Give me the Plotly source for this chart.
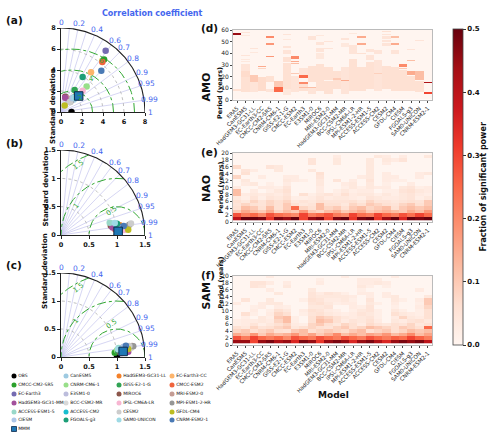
import numpy as np
import plotly.graph_objects as go

# ---------------- DATA ----------------
MODELS = ["OBS", "CanESM5", "HadGEM3-GC31-LL", "EC-Earth3-CC", "CMCC-CM2-SR5", "CNRM-CM6-1",
          "GISS-E2-1-G", "CMCC-ESM2", "EC-Earth3", "E3SM1-0", "MIROC6", "MRI-ESM2-0",
          "HadGEM3-GC31-MM", "BCC-CSM2-MR", "IPSL-CM6A-LR", "MPI-ESM1-2-HR", "ACCESS-ESM1-5",
          "ACCESS-CM2", "CESM2", "GFDL-CM4", "CIESM", "FGOALS-g3", "SAM0-UNICON", "CNRM-ESM2-1", "MMM"]
COLORS = ["#000000", "#9ecae1", "#f4812a", "#fdb46b", "#2ca02c", "#98df8a",
          "#31a354", "#f0643c", "#756bb1", "#bcbddc", "#8c564b", "#c49c94",
          "#a3509c", "#d9d9d9", "#f7b6d2", "#969696", "#99d8c9",
          "#17becf", "#cccccc", "#bcbd22", "#aec7e8", "#1b9e77", "#9edae5", "#4a7ab5", "#1f77b4"]

# Taylor diagram (a) AMO
STD_A = [1.0, 1.70, 2.27, 4.74, 6.47, 3.45, 2.47, 6.18, 7.22, 1.30, 1.52, 1.43,
         1.41, 1.26, 2.89, 1.35, 1.81, 1.94, 1.27, 0.72, 1.70, 3.92, 1.87, 5.50, 2.27]
CORR_A = [1.0, 0.707, 0.66, 0.603, 0.634, 0.707, 0.526, 0.637, 0.589, 0.537, 0.27, 0.42,
          0.284, 0.683, 0.712, 0.669, 0.664, 0.694, 0.667, 0.486, 0.646, 0.526, 0.694, 0.698, 0.741]
# Taylor diagram (b) NAO
STD_B = [1.0, 0.962, 1.064, 1.016, 0.987, 0.951, 1.031, 0.975, 1.089, 1.107, 0.904, 1.154,
         0.929, 1.19, 1.124, 1.233, 0.897, 1.008, 1.266, 1.204, 1.057, 1.02, 0.983, 1.131, 1.022]
CORR_B = [1.0, 0.988, 0.987, 0.984, 0.993, 0.978, 0.989, 0.995, 0.992, 0.994, 0.984, 0.996,
          0.990, 0.992, 0.997, 0.989, 0.970, 0.982, 0.987, 0.997, 0.994, 0.981, 0.977, 0.990, 0.998]
# Taylor diagram (c) SAM
STD_C = [1.0, 1.062, 1.156, 1.11, 0.963, 1.007, 1.025, 1.092, 1.192, 1.137, 1.054, 1.286,
         1.204, 1.26, 1.082, 1.304, 1.042, 1.078, 1.236, 1.208, 1.134, 1.057, 1.03, 1.177, 1.114]
CORR_C = [1.0, 0.989, 0.995, 0.991, 0.997, 0.993, 0.995, 0.989, 0.990, 0.993, 0.996, 0.988,
          0.997, 0.992, 0.998, 0.989, 0.988, 0.993, 0.987, 0.993, 0.987, 0.994, 0.991, 0.985, 0.996]

CORR_LINES = [0.1, 0.2, 0.3, 0.4, 0.5, 0.6, 0.7, 0.8, 0.9, 0.95, 0.99]
CORR_LABELS = [0, 0.2, 0.4, 0.6, 0.7, 0.8, 0.9, 0.95, 0.99, 1]

HEAT_MODELS = ["ERA5", "CanESM5", "HadGEM3-GC31-LL", "EC-Earth3-CC", "CMCC-CM2-SR5", "CNRM-CM6-1",
               "GISS-E2-1-G", "CMCC-ESM2", "EC-Earth3", "E3SM1-0", "MIROC6", "MRI-ESM2-0",
               "HadGEM3-GC31-MM", "BCC-CSM2-MR", "IPSL-CM6A-LR", "MPI-ESM1-2-HR", "ACCESS-ESM1-5",
               "ACCESS-CM2", "CESM2", "GFDL-CM4", "CIESM", "FGOALS-g3", "SAM0-UNICON", "CNRM-ESM2-1"]

AMO_PERIODS = list(range(1, 61))
NAO_PERIODS = list(range(1, 21))
SAM_PERIODS = list(range(1, 21))

# AMO: significant bands per model (period_from, period_to, fraction)
AMO_BANDS = [
    [(56, 57, 0.45), (8, 9, 0.06)],
    [(58, 58, 0.05), (55, 55, 0.04), (38, 38, 0.05), (35, 35, 0.04), (33, 33, 0.04), (25, 30, 0.05), (20, 24, 0.07), (7, 19, 0.06)],
    [(44, 44, 0.05), (41, 41, 0.04), (16, 21, 0.10), (7, 15, 0.05)],
    [(29, 29, 0.15), (27, 27, 0.08), (8, 19, 0.07)],
    [(54, 54, 0.20), (48, 48, 0.18), (37, 37, 0.18), (16, 20, 0.06), (7, 9, 0.05)],
    [(12, 16, 0.10), (7, 11, 0.25)],
    [(56, 56, 0.05), (52, 52, 0.04), (45, 46, 0.05), (40, 42, 0.05), (33, 36, 0.06), (10, 31, 0.06), (5, 9, 0.04)],
    [(36, 37, 0.20), (33, 33, 0.15), (31, 31, 0.12), (23, 23, 0.10), (7, 20, 0.05)],
    [(19, 21, 0.25), (14, 15, 0.20), (11, 11, 0.12), (8, 13, 0.06), (22, 27, 0.05)],
    [(52, 54, 0.05), (16, 29, 0.06), (11, 11, 0.12), (6, 10, 0.05)],
    [(55, 55, 0.04), (48, 49, 0.05), (42, 44, 0.05), (36, 40, 0.04), (8, 30, 0.06)],
    [(50, 50, 0.05), (44, 44, 0.05), (18, 28, 0.06), (6, 16, 0.06)],
    [(10, 24, 0.06), (18, 18, 0.10)],
    [(52, 53, 0.05), (46, 48, 0.04), (17, 17, 0.15), (6, 28, 0.05)],
    [(57, 57, 0.04), (40, 47, 0.05), (8, 35, 0.06)],
    [(54, 54, 0.15), (48, 48, 0.15), (40, 40, 0.06), (8, 28, 0.06)],
    [(42, 43, 0.05), (35, 38, 0.05), (10, 32, 0.06)],
    [(40, 42, 0.05), (23, 23, 0.09), (8, 34, 0.05)],
    [(59, 59, 0.06), (56, 56, 0.05), (53, 54, 0.05), (50, 51, 0.05), (47, 48, 0.05), (10, 29, 0.06)],
    [(54, 54, 0.12), (48, 48, 0.15), (40, 42, 0.05), (8, 28, 0.06)],
    [(29, 30, 0.20), (27, 27, 0.10), (8, 25, 0.06)],
    [(43, 43, 0.05), (34, 34, 0.12), (22, 24, 0.15), (8, 20, 0.06)],
    [(51, 51, 0.05), (18, 24, 0.12), (7, 16, 0.06)],
    [(15, 15, 0.42), (6, 6, 0.30)],
]

NAO_ROWS = [
    [0.40, 0.50, 0.50, 0.48, 0.32, 0.48, 0.45, 0.50, 0.30, 0.45, 0.48, 0.30, 0.48, 0.50, 0.32, 0.48, 0.50, 0.32, 0.45, 0.50, 0.35, 0.50, 0.48, 0.50],
    [0.28, 0.22, 0.25, 0.20, 0.28, 0.24, 0.22, 0.20, 0.30, 0.22, 0.25, 0.28, 0.22, 0.20, 0.30, 0.24, 0.22, 0.30, 0.25, 0.22, 0.28, 0.24, 0.30, 0.25],
    [0.10, 0.15, 0.12, 0.10, 0.15, 0.08, 0.12, 0.10, 0.18, 0.10, 0.08, 0.12, 0.15, 0.10, 0.12, 0.15, 0.10, 0.12, 0.14, 0.12, 0.10, 0.15, 0.12, 0.18],
    [0.06, 0.12, 0.10, 0.06, 0.12, 0.06, 0.10, 0.25, 0.08, 0.06, 0.12, 0.08, 0.10, 0.06, 0.10, 0.12, 0.08, 0.10, 0.12, 0.06, 0.10, 0.12, 0.10, 0.12],
    [0.05, 0.08, 0.06, 0.05, 0.08, 0.06, 0.10, 0.06, 0.04, 0.05, 0.12, 0.06, 0.06, 0.04, 0.08, 0.06, 0.10, 0.08, 0.06, 0.05, 0.08, 0.10, 0.06, 0.10],
    [0.06, 0.04, 0.08, 0.05, 0.08, 0.06, 0.08, 0.04, 0.05, 0.04, 0.06, 0.05, 0.05, 0.05, 0.06, 0.04, 0.08, 0.05, 0.05, 0.04, 0.05, 0.06, 0.05, 0.10],
    [0.04, 0.02, 0.05, 0.02, 0.05, 0.04, 0.06, 0.02, 0.02, 0.03, 0.05, 0.03, 0.04, 0.04, 0.03, 0.02, 0.05, 0.04, 0.03, 0.03, 0.04, 0.05, 0.02, 0.04],
    [0.12, 0.03, 0.04, 0.03, 0.04, 0.03, 0.05, 0.00, 0.06, 0.02, 0.04, 0.05, 0.03, 0.06, 0.03, 0.04, 0.04, 0.02, 0.04, 0.02, 0.04, 0.05, 0.03, 0.02],
    [0.12, 0.00, 0.03, 0.00, 0.02, 0.04, 0.06, 0.00, 0.00, 0.00, 0.03, 0.00, 0.02, 0.04, 0.02, 0.03, 0.03, 0.00, 0.02, 0.02, 0.05, 0.06, 0.04, 0.03],
    [0.03, 0.00, 0.00, 0.03, 0.03, 0.02, 0.05, 0.00, 0.00, 0.00, 0.03, 0.00, 0.00, 0.02, 0.04, 0.02, 0.04, 0.03, 0.03, 0.00, 0.04, 0.05, 0.02, 0.03],
    [0.00, 0.03, 0.04, 0.00, 0.02, 0.00, 0.03, 0.00, 0.00, 0.00, 0.04, 0.00, 0.00, 0.03, 0.04, 0.00, 0.04, 0.00, 0.02, 0.00, 0.00, 0.03, 0.00, 0.00],
    [0.00, 0.04, 0.00, 0.00, 0.00, 0.00, 0.04, 0.03, 0.02, 0.00, 0.04, 0.00, 0.05, 0.00, 0.03, 0.00, 0.05, 0.00, 0.03, 0.02, 0.02, 0.00, 0.00, 0.00],
    [0.08, 0.00, 0.00, 0.03, 0.00, 0.00, 0.03, 0.03, 0.00, 0.00, 0.05, 0.00, 0.00, 0.00, 0.00, 0.03, 0.04, 0.00, 0.03, 0.03, 0.00, 0.00, 0.03, 0.00],
    [0.00, 0.06, 0.00, 0.00, 0.00, 0.00, 0.00, 0.00, 0.00, 0.00, 0.06, 0.00, 0.00, 0.00, 0.00, 0.00, 0.04, 0.00, 0.03, 0.00, 0.00, 0.00, 0.03, 0.04],
    [0.00, 0.05, 0.03, 0.00, 0.00, 0.04, 0.00, 0.00, 0.00, 0.04, 0.00, 0.00, 0.00, 0.00, 0.00, 0.00, 0.04, 0.00, 0.00, 0.00, 0.00, 0.00, 0.00, 0.00],
    [0.07, 0.00, 0.00, 0.00, 0.05, 0.04, 0.00, 0.00, 0.00, 0.00, 0.00, 0.00, 0.00, 0.00, 0.00, 0.00, 0.04, 0.00, 0.00, 0.00, 0.00, 0.00, 0.00, 0.00],
    [0.00, 0.00, 0.00, 0.00, 0.00, 0.00, 0.00, 0.00, 0.00, 0.05, 0.00, 0.00, 0.04, 0.00, 0.00, 0.00, 0.04, 0.00, 0.03, 0.00, 0.00, 0.00, 0.00, 0.00],
    [0.00, 0.00, 0.00, 0.00, 0.00, 0.00, 0.00, 0.00, 0.00, 0.05, 0.00, 0.00, 0.04, 0.00, 0.00, 0.00, 0.04, 0.00, 0.04, 0.03, 0.05, 0.00, 0.00, 0.00],
    [0.00, 0.00, 0.00, 0.00, 0.00, 0.00, 0.00, 0.00, 0.00, 0.00, 0.00, 0.00, 0.03, 0.00, 0.00, 0.00, 0.00, 0.04, 0.03, 0.00, 0.03, 0.00, 0.00, 0.04],
    [0.00, 0.00, 0.00, 0.00, 0.00, 0.00, 0.00, 0.00, 0.00, 0.00, 0.00, 0.00, 0.00, 0.00, 0.00, 0.00, 0.00, 0.00, 0.00, 0.00, 0.00, 0.00, 0.00, 0.00],
]

SAM_ROWS = [
    [0.45, 0.45, 0.30, 0.45, 0.48, 0.42, 0.45, 0.35, 0.48, 0.45, 0.32, 0.45, 0.48, 0.45, 0.35, 0.45, 0.48, 0.42, 0.35, 0.45, 0.48, 0.45, 0.48, 0.40],
    [0.28, 0.22, 0.30, 0.25, 0.22, 0.25, 0.20, 0.28, 0.25, 0.22, 0.28, 0.25, 0.22, 0.28, 0.25, 0.22, 0.28, 0.25, 0.22, 0.26, 0.24, 0.30, 0.26, 0.22],
    [0.15, 0.12, 0.18, 0.10, 0.15, 0.12, 0.14, 0.18, 0.12, 0.16, 0.10, 0.14, 0.20, 0.12, 0.15, 0.12, 0.16, 0.14, 0.18, 0.12, 0.15, 0.20, 0.12, 0.16],
    [0.08, 0.10, 0.06, 0.08, 0.10, 0.06, 0.05, 0.10, 0.12, 0.06, 0.08, 0.10, 0.08, 0.07, 0.10, 0.12, 0.06, 0.08, 0.10, 0.06, 0.08, 0.12, 0.10, 0.12],
    [0.06, 0.04, 0.08, 0.05, 0.06, 0.08, 0.10, 0.04, 0.06, 0.08, 0.06, 0.05, 0.08, 0.10, 0.06, 0.08, 0.12, 0.10, 0.08, 0.06, 0.10, 0.08, 0.06, 0.25],
    [0.02, 0.03, 0.05, 0.02, 0.04, 0.06, 0.08, 0.03, 0.02, 0.08, 0.10, 0.06, 0.04, 0.08, 0.06, 0.03, 0.07, 0.05, 0.04, 0.06, 0.05, 0.08, 0.04, 0.06],
    [0.02, 0.03, 0.03, 0.04, 0.03, 0.08, 0.12, 0.02, 0.00, 0.06, 0.12, 0.10, 0.06, 0.03, 0.05, 0.04, 0.06, 0.03, 0.00, 0.04, 0.03, 0.05, 0.06, 0.04],
    [0.00, 0.02, 0.00, 0.04, 0.02, 0.10, 0.12, 0.02, 0.00, 0.06, 0.10, 0.08, 0.06, 0.04, 0.03, 0.04, 0.05, 0.02, 0.00, 0.03, 0.08, 0.04, 0.03, 0.06],
    [0.00, 0.06, 0.02, 0.00, 0.03, 0.08, 0.06, 0.00, 0.02, 0.05, 0.06, 0.04, 0.03, 0.02, 0.03, 0.05, 0.04, 0.02, 0.00, 0.06, 0.04, 0.03, 0.02, 0.06],
    [0.00, 0.00, 0.03, 0.00, 0.02, 0.06, 0.04, 0.00, 0.03, 0.06, 0.05, 0.03, 0.02, 0.00, 0.02, 0.04, 0.05, 0.02, 0.00, 0.04, 0.02, 0.00, 0.02, 0.06],
    [0.00, 0.00, 0.02, 0.03, 0.00, 0.03, 0.02, 0.00, 0.00, 0.04, 0.04, 0.05, 0.00, 0.00, 0.03, 0.02, 0.05, 0.00, 0.00, 0.02, 0.00, 0.00, 0.03, 0.08],
    [0.03, 0.00, 0.00, 0.03, 0.04, 0.04, 0.00, 0.00, 0.00, 0.05, 0.06, 0.04, 0.02, 0.03, 0.03, 0.00, 0.04, 0.02, 0.00, 0.03, 0.00, 0.00, 0.02, 0.10],
    [0.00, 0.05, 0.00, 0.00, 0.04, 0.00, 0.00, 0.00, 0.02, 0.06, 0.05, 0.03, 0.03, 0.04, 0.02, 0.00, 0.05, 0.00, 0.00, 0.04, 0.02, 0.00, 0.03, 0.10],
    [0.00, 0.00, 0.00, 0.00, 0.00, 0.00, 0.00, 0.00, 0.00, 0.05, 0.04, 0.04, 0.04, 0.04, 0.03, 0.00, 0.03, 0.00, 0.03, 0.04, 0.00, 0.00, 0.00, 0.04],
    [0.00, 0.00, 0.00, 0.00, 0.00, 0.04, 0.00, 0.00, 0.00, 0.05, 0.03, 0.05, 0.04, 0.02, 0.00, 0.03, 0.03, 0.00, 0.03, 0.00, 0.00, 0.00, 0.00, 0.00],
    [0.00, 0.00, 0.00, 0.00, 0.03, 0.00, 0.00, 0.00, 0.00, 0.04, 0.00, 0.00, 0.00, 0.00, 0.00, 0.02, 0.00, 0.00, 0.00, 0.00, 0.00, 0.00, 0.03, 0.00],
    [0.00, 0.00, 0.05, 0.04, 0.00, 0.00, 0.04, 0.00, 0.00, 0.00, 0.00, 0.00, 0.00, 0.00, 0.00, 0.04, 0.02, 0.00, 0.02, 0.00, 0.00, 0.00, 0.00, 0.00],
    [0.00, 0.00, 0.05, 0.05, 0.03, 0.00, 0.03, 0.00, 0.00, 0.00, 0.03, 0.00, 0.00, 0.00, 0.00, 0.03, 0.03, 0.04, 0.03, 0.00, 0.00, 0.00, 0.00, 0.00],
    [0.00, 0.00, 0.00, 0.00, 0.00, 0.00, 0.00, 0.00, 0.00, 0.00, 0.02, 0.00, 0.00, 0.00, 0.00, 0.03, 0.03, 0.03, 0.00, 0.00, 0.00, 0.00, 0.00, 0.00],
    [0.00, 0.00, 0.00, 0.00, 0.03, 0.00, 0.00, 0.00, 0.00, 0.00, 0.00, 0.00, 0.00, 0.03, 0.00, 0.00, 0.00, 0.00, 0.00, 0.03, 0.00, 0.00, 0.00, 0.00],
]

# ---------------- FIGURE ----------------
W, H = 500, 436
FONT = "DejaVu Sans"
BLUE = "#4466ee"
GREEN = "#33a833"
REDS = ["#fff5f0", "#fee0d2", "#fcbba1", "#fc9272", "#fb6a4a", "#ef3b2c", "#cb181d", "#a50f15", "#67000d"]
REDS_SCALE = [[i / (len(REDS) - 1), c] for i, c in enumerate(REDS)]


def px_x(p):
    return p / W


def px_y(p):
    return 1 - p / H


fig = go.Figure()
annotations = []

TX0, TX1 = 61, 145  # taylor x pixel extent
taylor_cfg = [
    ("", 8.0, 1.0, [2, 4, 6], [2, 4, 6], [0, 2, 4, 6, 8], 112, 28, STD_A, CORR_A,
     [(2, 81), (4, 70), (6, 67)], "(a)", 20, 47),
    ("2", 1.5, 1.0, [0.5, 1.0], [0.5, 1.0, 1.5], [0, 0.5, 1, 1.5], 235, 150, STD_B, CORR_B,
     [(0.5, 122), (1.0, 149), (1.5, 125)], "(b)", 143, 39),
    ("3", 1.5, 1.0, [0.5, 1.0], [0.5, 1.0, 1.5], [0, 0.5, 1, 1.5], 357, 273, STD_C, CORR_C,
     [(0.5, 122), (1.0, 149), (1.5, 125)], "(c)", 265, 39),
]

layout_axes = {}
for (sfx, R, ref, sgrid, rms, tv, oy, ty, std, corr, rmslab, plabel, ply, titx) in taylor_cfg:
    xa = "x" + sfx
    ya = "y" + sfx
    sx = (TX1 - TX0) / R
    sy = (oy - ty) / R

    def to_paper(x, y):
        return px_x(TX0 + x * sx), px_y(oy - y * sy)

    for c in CORR_LINES:
        th = np.arccos(c)
        fig.add_trace(go.Scatter(x=[0, R * np.cos(th)], y=[0, R * np.sin(th)], mode="lines",
                                 line=dict(color="#c4c4ee", width=0.7), xaxis=xa, yaxis=ya,
                                 showlegend=False, hoverinfo="skip"))
    t = np.linspace(0, np.pi / 2, 150)
    for s in sgrid:
        fig.add_trace(go.Scatter(x=s * np.cos(t), y=s * np.sin(t), mode="lines",
                                 line=dict(color="#b0b0b0", width=0.8, dash="dot"), xaxis=xa, yaxis=ya,
                                 showlegend=False, hoverinfo="skip"))
    t2 = np.linspace(0, np.pi, 400)
    for r in rms:
        x = ref + r * np.cos(t2)
        y = r * np.sin(t2)
        m = (np.hypot(x, y) <= R) & (x >= 0)
        fig.add_trace(go.Scatter(x=np.where(m, x, np.nan), y=np.where(m, y, np.nan), mode="lines",
                                 line=dict(color=GREEN, width=1, dash="dashdot"), xaxis=xa, yaxis=ya,
                                 showlegend=False, hoverinfo="skip", connectgaps=False))
    for (r, ang) in rmslab:
        a = np.radians(ang)
        px, py = to_paper(ref + r * np.cos(a), r * np.sin(a))
        annotations.append(dict(x=px, y=py, xref="paper", yref="paper", text="%g" % r,
                                showarrow=False, font=dict(family=FONT, size=7, color=GREEN),
                                textangle=-(ang - 90) * 0.5 - 20))
    fig.add_trace(go.Scatter(x=R * np.cos(t), y=R * np.sin(t), mode="lines",
                             line=dict(color="#222222", width=1.1), xaxis=xa, yaxis=ya,
                             showlegend=False, hoverinfo="skip", cliponaxis=False))
    for c in CORR_LABELS:
        th = np.arccos(c)
        px, py = to_paper(1.07 * R * np.cos(th), 1.07 * R * np.sin(th))
        annotations.append(dict(x=px, y=py, xref="paper", yref="paper",
                                text="%g" % c, showarrow=False, xanchor="center", yanchor="middle",
                                font=dict(family=FONT, size=7.5, color=BLUE)))
    std_arr = np.array(std[:-1])
    corr_arr = np.array(corr[:-1])
    fig.add_trace(go.Scatter(x=std_arr * corr_arr, y=std_arr * np.sin(np.arccos(corr_arr)), mode="markers",
                             marker=dict(color=COLORS[:-1], size=6.5, line=dict(width=0)),
                             xaxis=xa, yaxis=ya, showlegend=False, hoverinfo="skip"))
    fig.add_trace(go.Scatter(x=[std[-1] * corr[-1]], y=[std[-1] * np.sin(np.arccos(corr[-1]))], mode="markers",
                             marker=dict(color=COLORS[-1], size=8.5, symbol="square",
                                         line=dict(color="#0d2b4d", width=1)),
                             xaxis=xa, yaxis=ya, showlegend=False, hoverinfo="skip"))
    xdom = [px_x(TX0), px_x(TX1)]
    ydom = [px_y(oy), px_y(ty)]
    tt = ["<b>%g</b>" % v for v in tv]
    key = "axis" + sfx
    layout_axes["x" + key] = dict(domain=xdom, anchor=ya, range=[0, R], showgrid=False, zeroline=False,
                                  showline=True, linecolor="#222", linewidth=1, ticks="outside", ticklen=3,
                                  tickcolor="#222", tickvals=tv, ticktext=tt, automargin=False,
                                  tickfont=dict(family=FONT, size=6.5, color="#111"))
    layout_axes["y" + key] = dict(domain=ydom, anchor=xa, range=[0, R], showgrid=False, zeroline=False,
                                  showline=True, linecolor="#222", linewidth=1, ticks="outside", ticklen=3,
                                  tickcolor="#222", tickvals=tv, ticktext=tt, automargin=False,
                                  tickfont=dict(family=FONT, size=6.5, color="#111"))
    annotations.append(dict(x=px_x(titx), y=px_y((oy + ty) / 2 - 4), xref="paper", yref="paper",
                            text="<b>Standard deviation</b>", showarrow=False, textangle=-90,
                            font=dict(family=FONT, size=7, color="#111")))
    annotations.append(dict(x=px_x(4), y=px_y(ply), xref="paper", yref="paper", text="<b>%s</b>" % plabel,
                            showarrow=False, xanchor="left", yanchor="middle",
                            font=dict(family=FONT, size=10.5, color="#111")))

annotations.append(dict(x=px_x(100), y=px_y(7), xref="paper", yref="paper",
                        text="<b>Correlation coefficient</b>", showarrow=False,
                        font=dict(family=FONT, size=8, color=BLUE)))

# ---------------- manual legend ----------------
LEG_COLS_X = [14, 66, 119, 172]
LEG_ROWS_Y = [376, 385, 394, 403, 412, 420, 429]
lx, ly, lc, ls, lt = [], [], [], [], []
for i, (name, col) in enumerate(zip(MODELS, COLORS)):
    r, c = divmod(i, 4)
    lx.append(LEG_COLS_X[c])
    ly.append(LEG_ROWS_Y[r])
    lc.append(col)
    ls.append("square" if name == "MMM" else "circle")
    lt.append(name)
fig.add_trace(go.Scatter(x=lx, y=ly, mode="markers+text", text=lt, textposition="middle right",
                         textfont=dict(family=FONT, size=4.5, color="#111"),
                         marker=dict(color=lc, symbol=ls, size=5,
                                     line=dict(color=["#0d2b4d" if s == "square" else "rgba(0,0,0,0)" for s in ls],
                                               width=0.8)),
                         xaxis="x4", yaxis="y4", showlegend=False, hoverinfo="skip", cliponaxis=False))
layout_axes["xaxis4"] = dict(domain=[0, 0.5], range=[0, 250], visible=False, anchor="y4")
layout_axes["yaxis4"] = dict(domain=[0, px_y(366)], range=[436, 366], visible=False, anchor="x4")

# ---------------- heatmaps ----------------
amo = np.zeros((len(AMO_PERIODS), len(HEAT_MODELS)))
for j, bands in enumerate(AMO_BANDS):
    for (p0, p1, v) in bands:
        for p in range(p0, p1 + 1):
            amo[p - 1, j] = max(amo[p - 1, j], v)

heat_cfg = [
    ("5", amo, AMO_PERIODS, [0, 60], list(range(0, 61, 10)), 100, 30, "AMO", 71, "(d)", 28, True),
    ("6", np.array(NAO_ROWS), NAO_PERIODS, [0, 20], list(range(0, 21, 2)), 222, 153, "NAO", 189, "(e)", 152, False),
    ("7", np.array(SAM_ROWS), SAM_PERIODS, [0, 20], list(range(0, 21, 2)), 345, 276, "SAM", 312, "(f)", 275, False),
]
xi = list(range(len(HEAT_MODELS)))
for (sfx, z, per, yr, ytv, by, tyy, name, namey, plab, plaby, showscale) in heat_cfg:
    tr = go.Heatmap(z=z, x=xi, y=per, colorscale=REDS_SCALE, zmin=0, zmax=0.5, xaxis="x" + sfx,
                    yaxis="y" + sfx, showscale=showscale, hoverinfo="skip", xgap=0, ygap=0)
    if showscale:
        tr.colorbar = dict(x=px_x(453), xanchor="left", y=px_y(29), yanchor="top", len=316 / H,
                           lenmode="fraction", thickness=10, thicknessmode="pixels", outlinewidth=0.8,
                           outlinecolor="#444", ticks="outside", ticklen=3, tickcolor="#333",
                           xpad=0, ypad=0,
                           tickvals=[0, 0.1, 0.2, 0.3, 0.4, 0.5],
                           ticktext=["<b>0.0</b>", "<b>0.1</b>", "<b>0.2</b>", "<b>0.3</b>", "<b>0.4</b>", "<b>0.5</b>"],
                           tickfont=dict(family=FONT, size=7, color="#111"))
    fig.add_trace(tr)
    layout_axes["xaxis" + sfx] = dict(domain=[px_x(233), px_x(432)], anchor="y" + sfx, range=[-0.5, 23.5],
                                      tickmode="array", tickvals=xi, ticktext=HEAT_MODELS, tickangle=-45,
                                      ticks="outside", ticklen=2, tickcolor="#444", automargin=False,
                                      tickfont=dict(family=FONT, size=5.5, color="#222"),
                                      showline=True, mirror=True, linecolor="#bbbbbb", linewidth=1,
                                      showgrid=False, zeroline=False)
    layout_axes["yaxis" + sfx] = dict(domain=[px_y(by), px_y(tyy)], anchor="x" + sfx, range=yr,
                                      tickmode="array", tickvals=ytv, ticks="outside", ticklen=2,
                                      tickcolor="#444", tickfont=dict(family=FONT, size=6, color="#222"),
                                      showline=True, mirror=True, linecolor="#bbbbbb", linewidth=1,
                                      showgrid=False, zeroline=False, automargin=False)
    annotations.append(dict(x=px_x(220), y=px_y((by + tyy) / 2), xref="paper", yref="paper",
                            text="<b>Period (years)</b>", showarrow=False, textangle=-90,
                            font=dict(family=FONT, size=6.5, color="#111")))
    annotations.append(dict(x=px_x(206), y=px_y(namey), xref="paper", yref="paper", text="<b>%s</b>" % name,
                            showarrow=False, textangle=-90, font=dict(family=FONT, size=11, color="#111")))
    annotations.append(dict(x=px_x(199), y=px_y(plaby), xref="paper", yref="paper", text="<b>%s</b>" % plab,
                            showarrow=False, xanchor="left", yanchor="middle",
                            font=dict(family=FONT, size=10.5, color="#111")))

annotations.append(dict(x=px_x(333), y=px_y(402), xref="paper", yref="paper", text="<b>Model</b>",
                        showarrow=False, font=dict(family=FONT, size=9, color="#111")))
annotations.append(dict(x=px_x(490), y=px_y(187), xref="paper", yref="paper",
                        text="<b>Fraction of significant power</b>", showarrow=False, textangle=-90,
                        font=dict(family=FONT, size=8, color="#111")))

fig.update_layout(width=W, height=H, margin=dict(l=0, r=0, t=0, b=0, autoexpand=False),
                  paper_bgcolor="white", plot_bgcolor="white", showlegend=False, annotations=annotations,
                  font=dict(family=FONT), **layout_axes)

fig.write_html("out.html")
